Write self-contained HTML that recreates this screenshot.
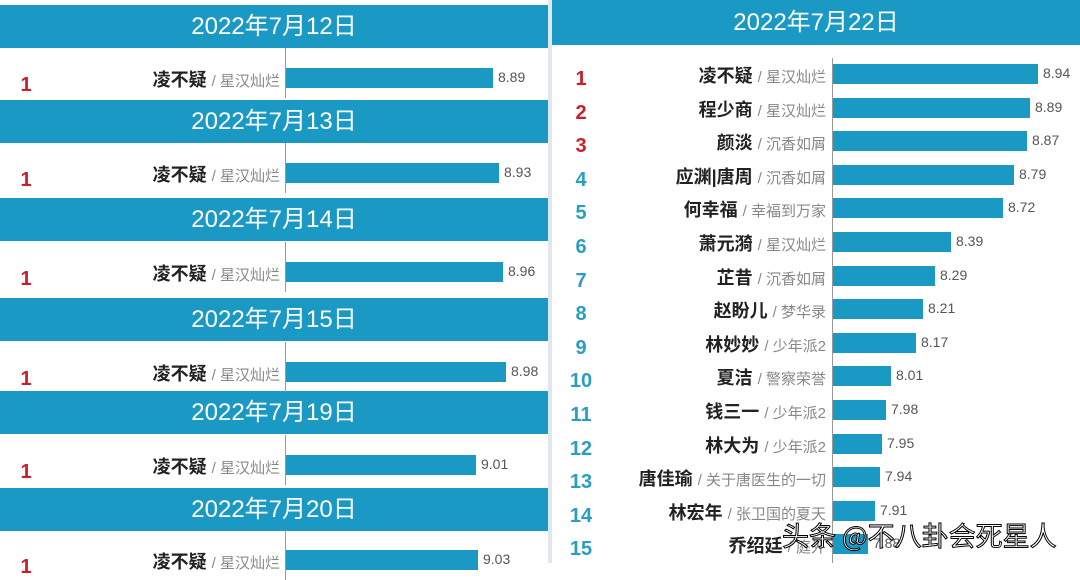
<!DOCTYPE html>
<html><head><meta charset="utf-8">
<style>
body{margin:0;width:1080px;height:563px;overflow:hidden;background:#fff;position:relative;font-family:"Liberation Sans","Noto Sans CJK SC",sans-serif}
.a{position:absolute}
.hd{position:absolute;background:#1a99c5;color:#fff;font-size:24px;text-align:center;line-height:43px;height:43px}
.bar{position:absolute;background:#1a99c5;height:20px}
.ax{position:absolute;width:1px;background:#999}
.nm{position:absolute;text-align:right;font-size:18px;color:#222;font-weight:bold;white-space:nowrap}
.nm span{font-weight:normal;color:#888;font-size:15px}
.v{position:absolute;font-size:14px;color:#555}
.rk{position:absolute;font-size:20px;font-weight:bold;text-align:center;width:40px}
</style></head><body>
<div class="a" style="left:548px;top:0;width:4px;height:563px;background:#dfe8ee"></div>

<div class="hd" style="left:0;top:5px;width:548px">2022年7月12日</div>
<div class="hd" style="left:0;top:100px;width:548px">2022年7月13日</div>
<div class="hd" style="left:0;top:198px;width:548px">2022年7月14日</div>
<div class="hd" style="left:0;top:298px;width:548px">2022年7月15日</div>
<div class="hd" style="left:0;top:391px;width:548px">2022年7月19日</div>
<div class="hd" style="left:0;top:488px;width:548px">2022年7月20日</div>

<div id="L"></div>

<div class="hd" style="left:552px;top:0;width:528px;height:45px;line-height:45px">2022年7月22日</div>
<div class="ax" style="left:832px;top:58px;height:505px"></div>
<div id="R"></div>

<div class="a" style="left:782px;top:515px;font-size:27px;color:#fff;-webkit-text-stroke:1px #000;white-space:nowrap;font-family:'Noto Sans CJK SC',sans-serif">头条 @不八卦会死星人</div>

<script>
var L=document.getElementById('L'),h='';
var lr=[[68,493,'8.89'],[163,499,'8.93'],[262,503,'8.96'],[362,506,'8.98'],[455,476,'9.01'],[550,478,'9.03']];
lr.forEach(function(r){var y=r[0];
h+='<div class="ax" style="left:285px;top:'+(y-20)+'px;height:50px"></div>';
h+='<div class="bar" style="left:286px;top:'+y+'px;width:'+(r[1]-286)+'px"></div>';
h+='<div class="v" style="left:'+(r[1]+5)+'px;top:'+(y+1)+'px">'+r[2]+'</div>';
h+='<div class="nm" style="right:'+(1080-280)+'px;top:'+(y-2)+'px">凌不疑 <span>/ 星汉灿烂</span></div>';
h+='<div class="rk" style="left:6px;top:'+(y+6)+'px;color:#c8202a">1</div>';});
L.innerHTML=h;
var R=document.getElementById('R');h='';
var d=[['凌不疑','星汉灿烂',8.94,1038],['程少商','星汉灿烂',8.89,1030],['颜淡','沉香如屑',8.87,1027],['应渊|唐周','沉香如屑',8.79,1014],['何幸福','幸福到万家',8.72,1003],['萧元漪','星汉灿烂',8.39,951],['芷昔','沉香如屑',8.29,935],['赵盼儿','梦华录',8.21,923],['林妙妙','少年派2',8.17,916],['夏洁','警察荣誉',8.01,891],['钱三一','少年派2',7.98,886],['林大为','少年派2',7.95,882],['唐佳瑜','关于唐医生的一切',7.94,880],['林宏年','张卫国的夏天',7.91,875],['乔绍廷','庭外',7.88,868]];
d.forEach(function(r,i){var y=64+i*33.6;
h+='<div class="bar" style="left:833px;top:'+y+'px;width:'+(r[3]-833)+'px"></div>';
h+='<div class="v" style="left:'+(r[3]+5)+'px;top:'+(y+1)+'px">'+r[2].toFixed(2)+'</div>';
h+='<div class="nm" style="right:'+(1080-826)+'px;top:'+(y-2)+'px">'+r[0]+' <span>/ '+r[1]+'</span></div>';
h+='<div class="rk" style="left:561px;top:'+(y+4)+'px;color:'+(i<3?'#c8202a':'#2a9ec0')+'">'+(i+1)+'</div>';});
R.innerHTML=h;
</script>
</body></html>
